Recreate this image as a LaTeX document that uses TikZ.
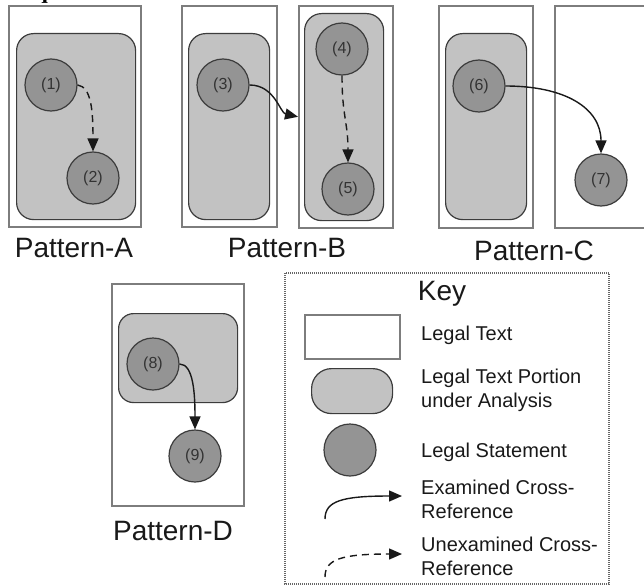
\documentclass[tikz,border=0pt]{standalone}
\usepackage{fontspec}
\setmainfont{Liberation Sans}
\newfontfamily\headfont{Liberation Serif}
\usepackage{tikz}
\usetikzlibrary{arrows.meta, positioning, calc}

\definecolor{portionfill}{RGB}{194,194,194}
\definecolor{statefill}{RGB}{148,148,148}
\definecolor{edgedark}{RGB}{60,60,60}
\definecolor{boxgray}{RGB}{125,125,125}

\tikzset{
  legaltext/.style={draw=boxgray, line width=1.6pt, fill=white, anchor=north west, inner sep=0pt},
  portion/.style={draw=edgedark, line width=1.2pt, fill=portionfill, rounded corners=17pt, anchor=north west, inner sep=0pt},
  statement/.style={circle, draw=edgedark, line width=1.2pt, fill=statefill, minimum size=52pt, inner sep=0pt, text=black!80, font=\fontsize{16}{16}\selectfont},
  xref/.style={-{Triangle[length=13pt,width=11pt]}, line width=1.4pt, black!90},
  uxref/.style={xref, dash pattern=on 7pt off 5pt},
  patlabel/.style={anchor=base, inner sep=0pt, text=black!90, font=\fontsize{28}{30}\selectfont},
  keytext/.style={anchor=base west, inner sep=0pt, align=left, text=black!90, font=\fontsize{20}{24}\selectfont}
}

\begin{document}
\begin{tikzpicture}[x=1pt, y=1pt]
    \useasboundingbox (0,0) rectangle (644,-586);
    \clip (0,0) rectangle (644,-586);

    \node[anchor=base west, inner sep=0pt, font=\headfont\bfseries\fontsize{23}{23}\selectfont] (req) at (8,1) {Requirements.};

    % Pattern-A
    \node[legaltext, minimum width=132pt, minimum height=221pt] (A) at (8,-5) {};
    \node[portion, minimum width=119pt, minimum height=186pt] (Ap) at (16,-33) {};
    \node[statement] (s1) at (51,-85) {(1)};
    \node[statement] (s2) at (93,-178) {(2)};
    \draw[uxref] (s1.east) .. controls +(14,-2) and +(0,40) .. (s2.north);

    % Pattern-B
    \node[legaltext, minimum width=95pt, minimum height=221pt] (B1) at (181,-5) {};
    \node[portion, minimum width=81pt, minimum height=186pt] (B1p) at (188,-33) {};
    \node[statement] (s3) at (223,-85) {(3)};
    \node[legaltext, minimum width=94pt, minimum height=222pt] (B2) at (298,-5) {};
    \node[portion, minimum width=79pt, minimum height=207pt] (B2p) at (304,-13) {};
    \node[statement] (s4) at (342,-49) {(4)};
    \node[statement] (s5) at (348,-189) {(5)};
    \draw[xref] (s3.east) .. controls +(25,0) and +(-18,4) .. (B2.west);
    \draw[uxref] (s4.south) .. controls +(0,-40) and +(0,40) .. (s5.north);

    % Pattern-C
    \node[legaltext, minimum width=94pt, minimum height=222pt] (C1) at (438,-5) {};
    \node[portion, minimum width=81pt, minimum height=186pt] (C1p) at (445,-33) {};
    \node[statement] (s6) at (479,-86) {(6)};
    \node[legaltext, minimum width=140pt, minimum height=222pt] (C2) at (554,-5) {};
    \node[statement] (s7) at (601,-180) {(7)};
    \draw[xref] (s6.east) .. controls +(60,0) and +(0,45) .. (s7.north);

    % Pattern-D
    \node[legaltext, minimum width=132pt, minimum height=222pt] (D) at (111,-283) {};
    \node[portion, rounded corners=15pt, minimum width=119pt, minimum height=89pt] (Dp) at (118,-313) {};
    \node[statement] (s8) at (153,-364) {(8)};
    \node[statement] (s9) at (195,-456) {(9)};
    \draw[xref] (s8.east) .. controls +(14,0) and +(0,35) .. (s9.north);

    \node[patlabel] (labA) at (74,-257) {Pattern-A};
    \node[patlabel] (labB) at (287,-257) {Pattern-B};
    \node[patlabel] (labC) at (534,-260) {Pattern-C};
    \node[patlabel] (labD) at (173,-540) {Pattern-D};

    % key
    \draw[black!60, line width=1.2pt, dash pattern=on 1pt off 1pt] (285,-273) rectangle (609,-584);
    \node[patlabel] (key) at (442,-300) {Key};
    \node[legaltext, minimum width=95pt, minimum height=44pt] (kbox) at (304,-314) {};
    \node[portion, rounded corners=20pt, minimum width=81pt, minimum height=45pt] (kport) at (311,-368) {};
    \node[statement] (kstat) at (350,-450) {};
    \coordinate (exa) at (325,-519);
    \coordinate (exb) at (402,-496);
    \coordinate (uxa) at (325,-577);
    \coordinate (uxb) at (402,-554);
    \draw[xref] (exa) .. controls +(0,18) and +(-60,0) .. (exb);
    \draw[uxref] (uxa) .. controls +(0,18) and +(-60,0) .. (uxb);

    \node[keytext] (t1) at (421,-340) {Legal Text};
    \node[keytext] (t2) at (421,-407) {Legal Text Portion\\under Analysis};
    \node[keytext] (t3) at (421,-457) {Legal Statement};
    \node[keytext] (t4) at (421,-518) {Examined Cross-\\Reference};
    \node[keytext] (t5) at (421,-575) {Unexamined Cross-\\Reference};
\end{tikzpicture}
\end{document}
